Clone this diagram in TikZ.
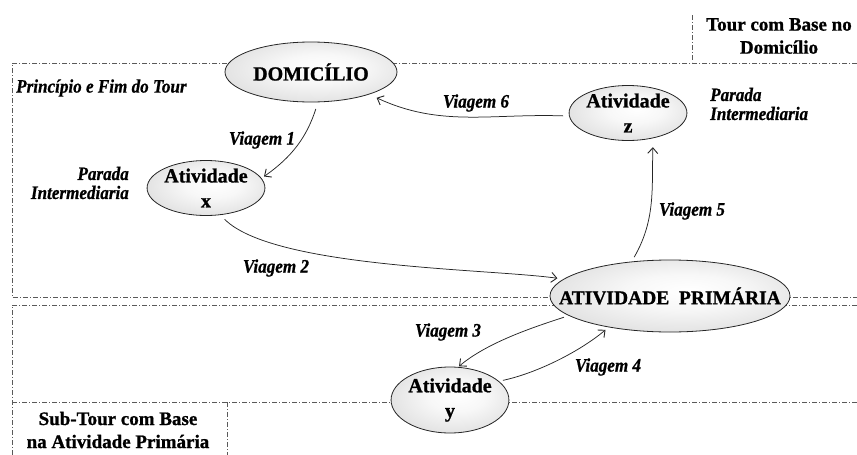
\documentclass[tikz,border=0pt]{standalone}
\usepackage{fontspec}
\setmainfont{Liberation Serif}
\newfontfamily\boxfont{Liberation Serif}[BoldFeatures={FakeBold=1}]
\newfontfamily\tripfont{Liberation Serif}[FakeStretch=0.9,
  BoldItalicFeatures={FakeBold=0.8}]
\usetikzlibrary{shapes.geometric,arrows.meta}
\pgfdeclareradialshading{placeshade}{\pgfpoint{4bp}{4bp}}{%
  color(0bp)=(white); color(12bp)=(gray!6); color(30bp)=(gray!25);
  color(42bp)=(gray!45); color(50bp)=(gray!62)}

\begin{document}
\begin{tikzpicture}[x=1pt,y=1pt,
  frame/.style={draw=gray!70!black, line width=0.55pt,
    dash pattern=on 5pt off 2pt on 1pt off 2pt},
  place/.style={ellipse, draw=black!85, line width=0.8pt, shading=placeshade,
    inner sep=0pt, align=center,
    font=\boxfont\bfseries\fontsize{20}{25}\selectfont},
  trip/.style={draw=black!85, line width=0.75pt,
    -{Straight Barb[length=5.5pt,width=10pt,line width=0.9pt]}},
  triplabel/.style={font=\tripfont\bfseries\itshape\fontsize{19}{19}\selectfont,
    inner sep=0pt},
  note/.style={font=\boxfont\bfseries\fontsize{19}{23}\selectfont,
    align=center, inner sep=0pt}
]
\useasboundingbox (0,0) rectangle (857,-455);

% dash-dot frames of the tour and the sub-tour
\draw[frame] (857,-63) -- (12,-63) -- (12,-297) -- (857,-297);
\draw[frame] (857,-305) -- (12,-305) -- (12,-455);
\draw[frame] (12,-402) -- (857,-402);
\draw[frame] (227,-402) -- (227,-455);
\draw[frame] (692,-15) -- (692,-62);

% places
\node[place, minimum width=172, minimum height=60] (dom) at (311,-72) {DOMICÍLIO};
\node[place, minimum width=116, minimum height=54] (z) at (628,-113) {Atividade\\z};
\node[place, minimum width=116, minimum height=54] (x) at (206,-188) {Atividade\\x};
\node[place, minimum width=240, minimum height=72,
  font=\boxfont\bfseries\fontsize{19.5}{24}\selectfont] (prim) at (670,-296)
  {\makebox[0pt][c]{ATIVIDADE\ \ PRIMÁRIA}};
\node[place, minimum width=115, minimum height=66] (y) at (450,-400) {Atividade\\y};

% region titles
\node[note] (tourtitle) at (779,-36) {Tour com Base no\\Domicílio};
\node[note] (subtitle) at (118,-430) {Sub-Tour com Base\\na Atividade Primária};

% side notes
\node[triplabel, anchor=west] (startend) at (16,-88) {Princípio e Fim do Tour};
\node[triplabel, anchor=west, align=left] (stopz) at (710,-104) {Parada\\Intermediaria};
\node[triplabel, anchor=east, align=right] (stopx) at (129,-183) {Parada\\Intermediaria};

% trips
\draw[trip, shorten <=7pt, shorten >=3pt] (dom.-77) to[out=-108, in=35] (x.10);
\draw[trip, shorten <=6pt, shorten >=6pt] (x.-62) to[out=-45, in=172, looseness=0.55] (prim.171);
\draw[trip, shorten <=5pt, shorten >=9pt] (prim.138) to[out=60, in=-92] (z.-45);
\draw[trip, shorten <=6pt, shorten >=8pt] (z.183) to[out=178, in=-25] (dom.-21);
\draw[trip, shorten <=5pt, shorten >=1pt] (prim.191) to[out=198, in=40, looseness=0.8] (y.76);
\draw[trip, shorten <=4pt, shorten >=4pt] (y.21) to[out=12, in=-140, looseness=0.8] (prim.207);

% trip labels
\node[triplabel] (v1) at (262,-140) {Viagem 1};
\node[triplabel] (v2) at (276,-268) {Viagem 2};
\node[triplabel] (v3) at (448,-332) {Viagem 3};
\node[triplabel] (v4) at (608,-367) {Viagem 4};
\node[triplabel] (v5) at (692,-211) {Viagem 5};
\node[triplabel] (v6) at (476,-103) {Viagem 6};
\end{tikzpicture}
\end{document}
